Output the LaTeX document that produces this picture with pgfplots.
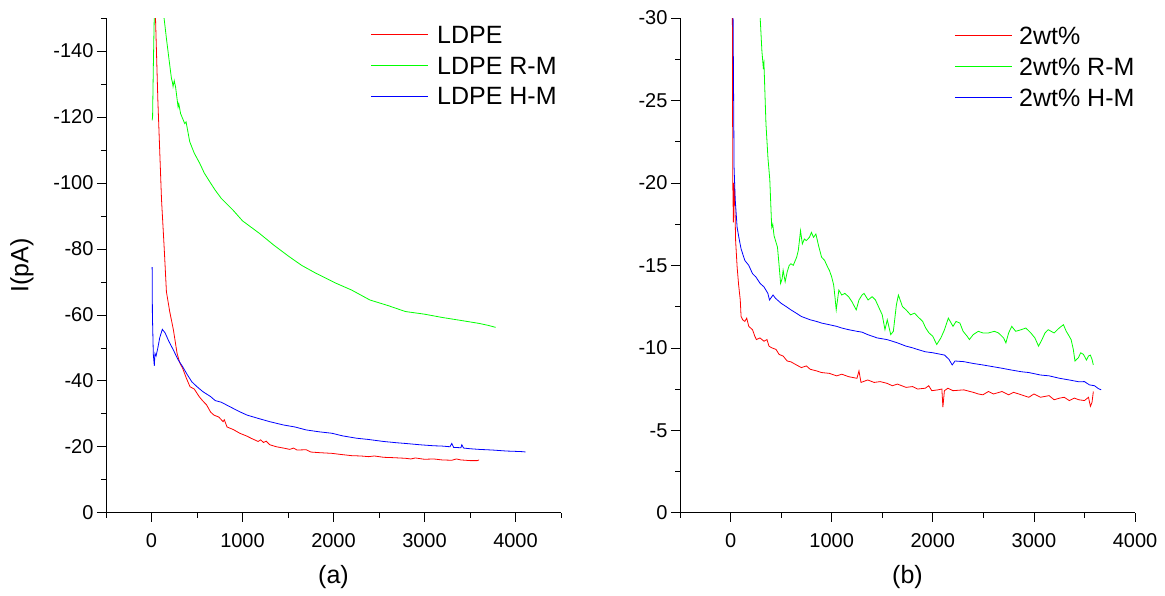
\documentclass[border=0pt]{standalone}
\usepackage{pgfplots}
\pgfplotsset{compat=1.18}
\usepackage{pgfplotstable}
\usepackage{fontspec}
\setmainfont{Liberation Sans}

\pgfplotstableread{
t I
25 -175
44 -150
70 -125
110 -95
140 -80
164 -67
200 -61
241 -55.4
281 -48.3
310 -45.5
342 -43.8
380 -41
423 -38.2
470 -37.5
524 -35.2
560 -34
605 -32.7
650 -30.5
686 -29.6
740 -29
787 -27.6
800 -28.2
830 -26
900 -25.2
970 -24.1
1050 -23.2
1100 -22.5
1172 -21.6
1200 -22.1
1230 -21.3
1260 -21.7
1300 -20.6
1372 -20
1450 -19.6
1520 -19.2
1560 -19.6
1600 -19
1700 -19.1
1750 -18.4
1850 -18.2
1981 -18
2100 -17.6
2200 -17.3
2300 -17.2
2386 -17
2450 -17.2
2550 -16.8
2650 -16.7
2790 -16.5
2850 -16.3
2900 -16.6
3000 -16.2
3100 -16.3
3195 -16
3300 -15.9
3350 -16.3
3400 -16
3500 -15.8
3580 -15.8
3600 -16
}\ldpe

\pgfplotstableread{
t I
7 -119
12 -120
20 -135
30 -150
40 -170
90 -180
138 -150
164 -143.8
190 -138
219 -131.7
230 -130.5
237 -129.2
250 -131
265 -129
292 -123
300 -124
320 -121
365 -118
380 -118.5
420 -112.5
470 -109
529 -106
580 -103
639 -100.4
700 -97.8
767 -95.3
894 -91.8
1000 -88.5
1186 -84.7
1350 -81
1515 -77.6
1650 -75
1807 -72.6
2026 -69.6
2200 -67.5
2400 -64.5
2600 -62.8
2790 -61
3000 -60.2
3195 -59.2
3400 -58.3
3600 -57.4
3700 -56.8
3782 -56.2
}\ldperm

\pgfplotstableread{
t I
7 -74.5
10 -60
20 -48
31 -44.5
38 -48.3
50 -47.5
70 -50
90 -53
119 -55.6
150 -54.5
190 -52
241 -49.3
290 -46.5
342 -44.3
390 -42
443 -39.7
500 -38.2
565 -36.7
650 -35.2
700 -34
767 -33.5
850 -32.3
970 -30.6
1050 -29.6
1172 -28.6
1300 -27.6
1450 -26.6
1576 -26
1700 -25.1
1850 -24.5
1981 -24.1
2100 -23.3
2250 -22.6
2386 -22.2
2550 -21.6
2700 -21.2
2790 -21
2950 -20.6
3100 -20.3
3195 -20.2
3280 -20
3300 -21
3320 -19.8
3400 -19.7
3410 -20.6
3430 -19.6
3500 -19.4
3600 -19.2
3750 -19
3900 -18.7
4000 -18.6
4086 -18.5
4110 -18.4
}\ldpehm

\pgfplotstableread{
t I
12 -35
18 -30
22 -20
28 -17.6
33 -20
40 -19.5
50 -16.5
65 -14.9
80 -13.8
96 -12.9
104 -11.9
120 -11.7
141 -11.6
160 -11.8
180 -11.3
217 -11.1
240 -10.7
256 -10.5
290 -10.6
331 -10.4
360 -10.5
380 -10.1
407 -10.0
450 -9.9
480 -9.6
520 -9.5
560 -9.2
597 -9.15
640 -9.0
700 -8.8
750 -8.9
787 -8.7
850 -8.6
900 -8.5
977 -8.45
1050 -8.3
1100 -8.4
1167 -8.25
1250 -8.15
1270 -8.6
1290 -7.9
1356 -8.05
1420 -7.9
1480 -7.95
1546 -7.85
1600 -7.7
1650 -7.8
1736 -7.6
1800 -7.65
1850 -7.5
1926 -7.55
1960 -7.7
1990 -7.4
2050 -7.45
2090 -7.5
2100 -6.4
2115 -7.4
2150 -7.55
2200 -7.4
2307 -7.45
2400 -7.3
2450 -7.2
2496 -7.15
2550 -7.35
2600 -7.2
2685 -7.35
2750 -7.15
2800 -7.3
2875 -7.15
2950 -7.0
3000 -7.2
3065 -7.0
3150 -7.1
3200 -6.85
3255 -6.95
3300 -7.0
3350 -6.8
3400 -6.95
3444 -6.85
3500 -6.8
3540 -7.0
3559 -6.45
3575 -6.7
3588 -7.35
}\wt

\pgfplotstableread{
t I
280 -33
293 -30
310 -28
323 -27.05
330 -27.3
350 -23.6
370 -21.5
388 -20.2
407 -17.3
417 -17.5
430 -16.8
464 -16.1
480 -15
495 -13.9
510 -14.2
520 -14.7
540 -14.0
560 -14.6
580 -15.0
597 -15.1
620 -15.0
654 -15.5
670 -15.9
692 -17.1
710 -16.3
730 -16.6
749 -16.5
780 -16.7
800 -17.0
820 -16.7
844 -16.9
870 -16.2
900 -15.5
930 -15.3
960 -14.9
977 -14.7
1000 -14.3
1020 -13.8
1034 -13.0
1045 -12.3
1060 -13.0
1071 -13.5
1100 -13.2
1130 -13.3
1167 -13.1
1200 -12.8
1243 -12.3
1270 -12.9
1300 -13.2
1320 -13.3
1360 -12.9
1400 -13.1
1433 -12.9
1470 -12.4
1500 -12.0
1527 -11.1
1550 -11.7
1584 -10.8
1610 -11.0
1640 -12.6
1660 -13.2
1700 -12.5
1736 -12.3
1780 -12.0
1820 -12.1
1850 -11.9
1900 -11.6
1930 -11.2
1963 -10.9
2000 -10.7
2039 -10.2
2080 -10.6
2116 -11.1
2154 -11.8
2200 -11.3
2230 -11.6
2268 -11.5
2300 -11.0
2340 -10.7
2362 -10.5
2400 -10.8
2450 -11.0
2496 -10.9
2550 -10.9
2609 -11.0
2650 -10.9
2700 -10.6
2723 -10.3
2750 -10.9
2781 -11.3
2820 -11.0
2875 -11.1
2920 -11.2
2970 -10.9
3010 -10.6
3046 -10.1
3080 -10.5
3110 -10.9
3141 -11.1
3200 -10.9
3250 -11.2
3292 -11.4
3320 -11.0
3340 -10.8
3368 -10.5
3390 -9.9
3406 -9.2
3440 -9.4
3463 -9.7
3490 -9.6
3520 -9.26
3540 -9.5
3558 -9.56
3575 -9.3
3588 -8.96
}\wtrm

\pgfplotstableread{
t I
18 -35
25 -30
35 -20.9
46 -19
65 -17.3
85 -16.6
104 -16.0
141 -15.3
180 -15.0
217 -14.5
250 -14.3
293 -13.9
330 -13.7
369 -13.3
385 -12.9
420 -13.2
445 -13.0
500 -12.7
550 -12.5
597 -12.3
650 -12.1
700 -11.9
787 -11.7
850 -11.6
900 -11.5
977 -11.4
1050 -11.3
1100 -11.2
1167 -11.1
1250 -11.0
1300 -10.95
1356 -10.8
1450 -10.6
1546 -10.5
1600 -10.4
1650 -10.3
1736 -10.1
1800 -10.0
1850 -9.9
1926 -9.76
2000 -9.7
2116 -9.56
2160 -9.3
2192 -8.96
2220 -9.2
2307 -9.16
2400 -9.05
2496 -8.96
2600 -8.85
2685 -8.76
2780 -8.65
2875 -8.55
2950 -8.5
3065 -8.35
3150 -8.3
3255 -8.15
3350 -8.05
3444 -7.94
3500 -7.95
3550 -7.75
3600 -7.7
3634 -7.54
3665 -7.45
}\wthm

\pgfplotsset{
  panel/.style={
    scale only axis,
    width=455pt, height=494.7pt,
    axis x line*=bottom, axis y line*=left,
    y dir=reverse,
    tick align=outside,
    major tick length=9pt, minor tick length=5pt,
    every tick/.style={black, line width=0.6pt},
    axis line style={black, line width=0.8pt},
    /pgf/number format/assume math mode=true,
    /pgf/number format/1000 sep={},
    xticklabel style={font=\fontsize{20}{24}\selectfont, yshift=-8pt},
    yticklabel style={font=\fontsize{20}{24}\selectfont},
    label style={font=\fontsize{25}{30}\selectfont},
    every axis plot/.append style={line width=0.8pt},
  }
}
\tikzset{legtext/.style={anchor=base west, inner sep=0pt, yshift=-9pt, text=black, font=\fontsize{25}{30}\selectfont}}

\begin{document}
\begin{tikzpicture}
\path[use as bounding box] (0pt,0pt) rectangle (1165pt,595pt);
\begin{axis}[panel,
  at={(106pt,82.3pt)}, anchor=south west,
  xmin=-500, xmax=4500, ymin=-150, ymax=0,
  xtick={0,1000,2000,3000,4000},
  minor xtick={-500,500,1500,2500,3500,4500},
  ytick={0,-20,-40,-60,-80,-100,-120,-140},
  minor ytick={-10,-30,-50,-70,-90,-110,-130,-150},
  ylabel={I(pA)},
  ylabel style={at={(axis description cs:-0.185,0.5)}, anchor=center, rotate=0},
  xlabel={(a)},
  xlabel style={at={(axis description cs:0.5,-0.131)}, anchor=center},
]
\addplot[red] table[x=t,y=I] {\ldpe};
\addplot[green] table[x=t,y=I] {\ldperm};
\addplot[blue] table[x=t,y=I] {\ldpehm};
% legend swatches
\addplot[red, line width=1pt] coordinates {(2413,-145.06) (3037,-145.06)};
\addplot[green, line width=1pt] coordinates {(2413,-135.75) (3037,-135.75)};
\addplot[blue, line width=1pt] coordinates {(2413,-126.35) (3037,-126.35)};
\node[legtext] at (axis description cs:0.7275,0.967) {LDPE};
\node[legtext] at (axis description cs:0.7275,0.905) {LDPE R-M};
\node[legtext] at (axis description cs:0.7275,0.843) {LDPE H-M};
\node[font=\fontsize{25}{30}\selectfont, anchor=center] at (axis description cs:1.146,-0.131) {t/(s)};
\end{axis}

\begin{axis}[panel,
  at={(680pt,82.3pt)}, anchor=south west,
  xmin=-500, xmax=4000, ymin=-30, ymax=0,
  xtick={0,1000,2000,3000,4000},
  minor xtick={-500,500,1500,2500,3500},
  ytick={0,-5,-10,-15,-20,-25,-30},
  minor ytick={-2.5,-7.5,-12.5,-17.5,-22.5,-27.5},
  xlabel={(b)},
  xlabel style={at={(axis description cs:0.5,-0.131)}, anchor=center},
]
\addplot[red] table[x=t,y=I] {\wt};
\addplot[green] table[x=t,y=I] {\wtrm};
\addplot[blue] table[x=t,y=I] {\wthm};
% legend swatches
\addplot[red, line width=1pt] coordinates {(2218,-28.93) (2781,-28.93)};
\addplot[green, line width=1pt] coordinates {(2218,-27.05) (2781,-27.05)};
\addplot[blue, line width=1pt] coordinates {(2218,-25.17) (2781,-25.17)};
\node[legtext] at (axis description cs:0.745,0.964) {2wt\%};
\node[legtext] at (axis description cs:0.745,0.9016) {2wt\% R-M};
\node[legtext] at (axis description cs:0.745,0.839) {2wt\% H-M};
\end{axis}
\end{tikzpicture}
\end{document}
